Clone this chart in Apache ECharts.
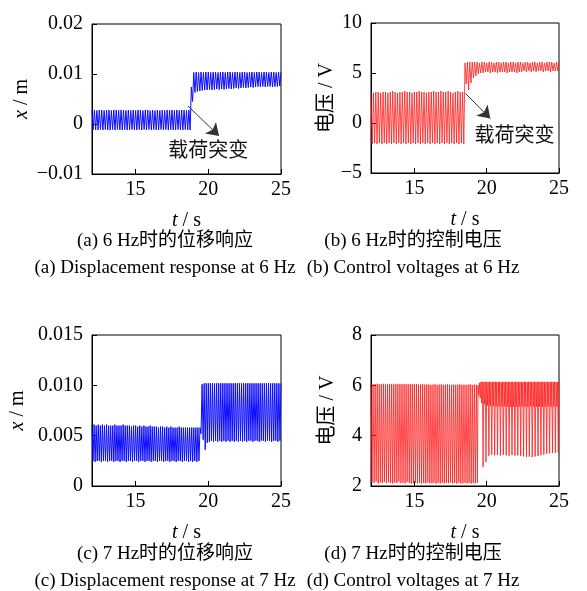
<!DOCTYPE html>
<html>
<head>
<meta charset="utf-8">
<script src="https://cdn.jsdelivr.net/npm/echarts@6/dist/echarts.min.js"></script>
<style>
html, body { margin: 0; padding: 0; background: #fff; }
#chart { width: 587px; height: 591px; }
</style>
</head>
<body>
<div id="chart"></div>
<script>
// Time axis (s) shared by all four panels
const xTicks = [15, 20, 25];
const tStart = 12;
const tEnd = 25;

// Each record is a list of successive extremes (peak, trough, peak, ...)
// sampled every half period of the excitation.
const halfPeriod6Hz = 1 / 12;
const halfPeriod7Hz = 1 / 14;

// (a) displacement at 6 Hz, m
const aStart = 12.0;
const aBefore = [
  0.0027,-0.0011,0.0028,-0.0012,0.0027,-0.0012,0.0028,-0.0011,0.0028,-0.0012,
  0.0027,-0.0011,0.0028,-0.0012,0.0028,-0.0012,0.0027,-0.0011,0.0028,-0.0012,
  0.0028,-0.0011,0.0027,-0.0012,0.0028,-0.0012,0.0028,-0.0011,0.0027,-0.0012,
  0.0028,-0.0012,0.0027,-0.0011,0.0028,-0.0012,0.0027,-0.0012,0.0028,-0.0011,
  0.0028,-0.0012,0.0027,-0.0011,0.0028,-0.0012,0.0028,-0.0011,0.0027,-0.0012,
  0.0028,-0.0011,0.0027,-0.0012,0.0028,-0.0012,0.0027,-0.0011,0.0028,-0.0012,
  0.0027,-0.0011,0.0028,-0.0012,0.0028,-0.0011,0.0028,-0.0012,0.0027,-0.0012,
  0.0028,-0.0011,0.0027,-0.0012,0.0028,-0.0012,0.0028,-0.0011,0.0027,-0.0012,
  0.0028,-0.0012
];
const aAfter = [
  0.0074,0.0045,0.0103,0.0063,0.0104,0.0065,0.0103,0.0066,0.0104,0.0067,
  0.0103,0.0068,0.0104,0.0068,0.0104,0.0069,0.0103,0.0068,0.0104,0.0069,
  0.0104,0.0070,0.0103,0.0069,0.0104,0.0070,0.0104,0.0069,0.0103,0.0070,
  0.0104,0.0071,0.0104,0.0070,0.0103,0.0071,0.0104,0.0072,0.0104,0.0071,
  0.0103,0.0072,0.0104,0.0073,0.0104,0.0072,0.0103,0.0073,0.0104,0.0074,
  0.0104,0.0073,0.0103,0.0074,0.0104,0.0075,0.0104,0.0074,0.0103,0.0075,
  0.0104,0.0074,0.0104,0.0075,0.0103,0.0075,0.0104,0.0074,0.0104,0.0075,
  0.0103,0.0075,0.0104,0.0076,0.0104
];
const aYTicks = [-0.01, 0, 0.01, 0.02];
const aYLabels = ['\u22120.01', '0', '0.01', '0.02'];

// (b) control voltage at 6 Hz, V
const bStart = 12.0;
const bBefore = [
  3.1,-2.1,3.0,-2.0,3.1,-2.1,3.1,-2.0,3.0,-2.1,
  3.1,-2.0,3.1,-2.1,3.0,-2.0,3.1,-2.1,3.2,-2.0,
  3.1,-2.1,3.0,-2.0,3.1,-2.1,3.1,-2.0,3.2,-2.1,
  3.1,-2.0,3.1,-2.1,3.0,-2.0,3.1,-2.1,3.1,-2.0,
  3.2,-2.1,3.1,-2.0,3.1,-2.1,3.0,-2.0,3.1,-2.1,
  3.1,-2.0,3.2,-2.1,3.1,-2.0,3.1,-2.1,3.2,-2.0,
  3.1,-2.1,3.1,-2.0,3.2,-2.1,3.1,-2.0,3.0,-2.1,
  3.1,-2.0,3.2,-2.1,3.1,-2.0,3.1,-2.1
];
const bAfter = [
  6.0,3.9,6.1,3.3,6.1,4.0,6.1,4.5,6.1,4.7,
  6.1,4.9,6.0,5.0,6.1,5.0,6.1,5.1,6.0,5.1,
  6.1,5.0,6.1,5.1,6.0,5.1,6.1,5.0,6.1,5.1,
  6.0,5.1,6.1,5.1,6.1,5.0,6.0,5.1,6.1,5.1,
  6.1,5.1,6.0,5.0,6.1,5.1,6.1,5.1,6.0,5.2,
  6.1,5.1,6.1,5.2,6.0,5.1,6.1,5.2,6.1,5.1,
  6.0,5.2,6.1,5.2,6.1,5.1,6.0,5.2,6.1,5.2,
  6.1,5.1,6.1,5.2,6.0,5.2,6.1,5.2,6.1
];
const bYTicks = [-5, 0, 5, 10];
const bYLabels = ['\u22125', '0', '5', '10'];

// (c) displacement at 7 Hz, m
const cStart = 12.0;
const cBefore = [
  0.0060,0.0025,0.0061,0.0024,0.0060,0.0025,0.0061,0.0025,0.0060,0.0024,
  0.0061,0.0025,0.0060,0.0025,0.0061,0.0024,0.0060,0.0025,0.0060,0.0025,
  0.0060,0.0024,0.0061,0.0025,0.0060,0.0025,0.0060,0.0024,0.0060,0.0025,
  0.0061,0.0025,0.0060,0.0024,0.0060,0.0025,0.0060,0.0025,0.0059,0.0024,
  0.0060,0.0025,0.0060,0.0025,0.0059,0.0024,0.0060,0.0025,0.0059,0.0025,
  0.0060,0.0024,0.0059,0.0025,0.0059,0.0025,0.0060,0.0024,0.0059,0.0025,
  0.0059,0.0025,0.0059,0.0024,0.0058,0.0025,0.0059,0.0025,0.0059,0.0024,
  0.0058,0.0025,0.0059,0.0025,0.0058,0.0024,0.0059,0.0025,0.0058,0.0025,
  0.0058,0.0024,0.0058,0.0025,0.0059,0.0025,0.0058,0.0024,0.0058,0.0025,
  0.0058,0.0025,0.0058,0.0024,0.0058,0.0025,0.0058,0.0024,0.0058,0.0025,
  0.0058,0.0024,0.0058,0.0025
];
const cAfter = [
  0.0058,0.0052,0.0101,0.0046,0.0102,0.0036,0.0102,0.0043,0.0102,0.0044,
  0.0102,0.0045,0.0102,0.0044,0.0102,0.0045,0.0102,0.0044,0.0102,0.0045,
  0.0102,0.0044,0.0102,0.0045,0.0102,0.0044,0.0102,0.0045,0.0102,0.0044,
  0.0102,0.0045,0.0102,0.0044,0.0102,0.0045,0.0102,0.0044,0.0102,0.0045,
  0.0102,0.0044,0.0102,0.0045,0.0102,0.0044,0.0102,0.0045,0.0102,0.0045,
  0.0102,0.0044,0.0102,0.0045,0.0102,0.0045,0.0102,0.0044,0.0102,0.0045,
  0.0102,0.0045,0.0102,0.0044,0.0102,0.0045,0.0102,0.0045,0.0102,0.0044,
  0.0102,0.0045,0.0102,0.0045,0.0102,0.0044,0.0102,0.0045,0.0102
];
const cYTicks = [0, 0.005, 0.010, 0.015];
const cYLabels = ['0', '0.005', '0.010', '0.015'];

// (d) control voltage at 7 Hz, V
const dStart = 12.0;
const dBefore = [
  6.05,2.15,6.04,2.12,6.05,2.18,6.06,2.10,6.04,2.14,
  6.05,2.12,6.06,2.16,6.04,2.11,6.05,2.15,6.06,2.12,
  6.05,2.10,6.04,2.14,6.05,2.12,6.06,2.17,6.05,2.11,
  6.04,2.13,6.05,2.10,6.05,2.15,6.04,2.12,6.05,2.09,
  6.05,2.11,6.04,2.14,6.05,2.10,6.03,2.13,6.04,2.09,
  6.04,2.12,6.03,2.10,6.04,2.14,6.03,2.11,6.02,2.10,
  6.03,2.13,6.04,2.09,6.02,2.12,6.03,2.10,6.04,2.13,
  6.02,2.10,6.03,2.12,6.04,2.11,6.03,2.14,6.02,2.10,
  6.03,2.12,6.02,2.09,6.03,2.13,6.04,2.10,6.02,2.11,
  6.03,2.13,6.02,2.10,6.03,2.12,6.04,2.09,6.02,2.12,
  6.03,2.10,6.02,2.13
];
// after the load change every period shows a shallow and a deep dip
const dAfterStart = 19.4;
const dAfterStep = 0.05;
const dAfter = [
  6.00,5.60,6.10,5.50, 6.14,5.30,6.14,2.75, 6.13,5.25,6.14,2.95, 6.14,5.20,6.13,3.20,
  6.14,5.18,6.14,3.25, 6.13,5.17,6.14,3.22, 6.14,5.16,6.13,3.24, 6.14,5.16,6.14,3.21,
  6.13,5.15,6.14,3.23, 6.14,5.16,6.13,3.22, 6.14,5.15,6.14,3.20, 6.13,5.15,6.14,3.23,
  6.14,5.16,6.13,3.21, 6.14,5.15,6.14,3.22, 6.13,5.15,6.14,3.20, 6.14,5.16,6.13,3.18,
  6.14,5.15,6.14,3.16, 6.13,5.15,6.14,3.17, 6.14,5.16,6.13,3.15, 6.14,5.15,6.14,3.17,
  6.13,5.15,6.14,3.19, 6.14,5.16,6.13,3.22, 6.14,5.15,6.14,3.25, 6.13,5.15,6.14,3.28,
  6.14,5.16,6.13,3.30, 6.14,5.15,6.14,3.31, 6.13,5.15,6.14,3.32, 6.14,5.16,6.13,3.33,
  6.14
];
const dYTicks = [2, 4, 6, 8];
const dYLabels = ['2', '4', '6', '8'];

// Load-change annotation: arrow tail/head and text anchor, in data units
const aArrow = [[18.6, 0.0036], [20.74, -0.0024]];
const aNote = [20.0, -0.0056];
const bArrow = [[18.54, 2.94], [20.25, 0.44]];
const bNote = [21.92, -1.4];
const noteText = '载荷突变';

// Figure captions
const captions = [
  ['(a) 6 Hz时的位移响应', '(a) Displacement response at 6 Hz'],
  ['(b) 6 Hz时的控制电压', '(b) Control voltages at 6 Hz'],
  ['(c) 7 Hz时的位移响应', '(c) Displacement response at 7 Hz'],
  ['(d) 7 Hz时的控制电压', '(d) Control voltages at 7 Hz']
];

// ---------------------------------------------------------------------------
const FONT = "'Liberation Serif', 'Times New Roman', 'Noto Sans CJK SC', serif";
const BLUE = '#0a0aff';
const RED = '#ff1a1a';

function toPoints(start, step, values, offset) {
  return values.map((v, i) => [Math.round((start + (i + (offset || 0)) * step) * 10000) / 10000, v]);
}

function record(start, step, before, after) {
  return toPoints(start, step, before).concat(toPoints(start, step, after, before.length));
}

function tickFormatter(ticks, labels) {
  return function (v) {
    const k = ticks.findIndex(t => Math.abs(t - v) < 1e-9);
    return k >= 0 ? labels[k] : '';
  };
}

const panels = [
  {
    grid: { left: 92, top: 24, width: 189, height: 150 },
    data: record(aStart, halfPeriod6Hz, aBefore, aAfter),
    color: BLUE, width: 1, ticks: aYTicks, labels: aYLabels,
    yName: '{i|x} / m', yNameGap: 60, arrow: aArrow, note: aNote
  },
  {
    grid: { left: 371, top: 23, width: 188, height: 150 },
    data: record(bStart, halfPeriod6Hz, bBefore, bAfter),
    color: RED, width: 0.8, ticks: bYTicks, labels: bYLabels,
    yName: '电压 / V', yNameGap: 33, arrow: bArrow, note: bNote
  },
  {
    grid: { left: 92, top: 335, width: 189, height: 151 },
    data: record(cStart, halfPeriod7Hz, cBefore, cAfter),
    color: BLUE, width: 1, ticks: cYTicks, labels: cYLabels,
    yName: '{i|x} / m', yNameGap: 64
  },
  {
    grid: { left: 371, top: 335, width: 188, height: 151 },
    data: toPoints(dStart, halfPeriod7Hz, dBefore).concat(toPoints(dAfterStart, dAfterStep, dAfter)),
    color: RED, width: 0.8, ticks: dYTicks, labels: dYLabels,
    yName: '电压 / V', yNameGap: 33
  }
];

const axisLineStyle = { color: '#000', width: 1 };
const richItalic = { i: { fontStyle: 'italic', fontFamily: FONT, fontSize: 20, color: '#000' } };

const option = {
  animation: false,
  backgroundColor: '#fff',
  grid: panels.map(p => Object.assign({ show: true, borderColor: '#000', borderWidth: 1, backgroundColor: 'transparent' }, p.grid)),
  xAxis: panels.map((p, i) => ({
    type: 'value', gridIndex: i, min: tStart, max: tEnd,
    axisLine: { show: true, onZero: false, lineStyle: axisLineStyle },
    axisTick: { show: true, inside: true, length: 5, customValues: xTicks, lineStyle: axisLineStyle },
    axisLabel: { customValues: xTicks, fontFamily: FONT, fontSize: 20, color: '#000', margin: 6 },
    splitLine: { show: false },
    name: '{i|t} / s', nameLocation: 'middle', nameGap: 37,
    nameTextStyle: { fontFamily: FONT, fontSize: 20, color: '#000', rich: richItalic }
  })),
  yAxis: panels.map((p, i) => ({
    type: 'value', gridIndex: i,
    min: p.ticks[0], max: p.ticks[p.ticks.length - 1],
    axisLine: { show: true, onZero: false, lineStyle: axisLineStyle },
    axisTick: { show: true, inside: true, length: 5, customValues: p.ticks, lineStyle: axisLineStyle },
    axisLabel: { customValues: p.ticks, formatter: tickFormatter(p.ticks, p.labels), fontFamily: FONT, fontSize: 20, color: '#000', margin: 9 },
    splitLine: { show: false },
    name: p.yName, nameLocation: 'middle', nameRotate: 90, nameGap: p.yNameGap,
    nameTextStyle: { fontFamily: FONT, fontSize: 20, color: '#000', rich: richItalic }
  })),
  series: panels.map((p, i) => {
    const s = {
      type: 'line', xAxisIndex: i, yAxisIndex: i,
      data: p.data, symbol: 'none', showSymbol: false, silent: true,
      lineStyle: { color: p.color, width: p.width },
      clip: true
    };
    if (p.arrow) {
      s.markLine = {
        silent: true, symbol: ['none', 'arrow'], symbolSize: 12,
        lineStyle: { color: '#333', width: 1, type: 'solid' },
        itemStyle: { color: '#111' },
        label: { show: false },
        data: [[{ coord: p.arrow[0] }, { coord: p.arrow[1] }]]
      };
      s.markPoint = {
        silent: true, symbol: 'circle', symbolSize: 0,
        label: { show: true, position: 'inside', formatter: noteText, fontFamily: FONT, fontSize: 20, color: '#111' },
        data: [{ coord: p.note }]
      };
    }
    return s;
  }),
  graphic: [
    [165, 241, captions[0][0]], [165, 268, captions[0][1]],
    [413, 241, captions[1][0]], [413, 268, captions[1][1]],
    [165, 554, captions[2][0]], [165, 581, captions[2][1]],
    [413, 554, captions[3][0]], [413, 581, captions[3][1]]
  ].map(c => ({
    type: 'text', x: c[0], y: c[1], silent: true,
    style: { text: c[2], fill: '#000', font: '19px ' + FONT, align: 'center', verticalAlign: 'middle' }
  }))
};

const chart = echarts.init(document.getElementById('chart'), null, { renderer: 'canvas' });
chart.setOption(option);
</script>
</body>
</html>
